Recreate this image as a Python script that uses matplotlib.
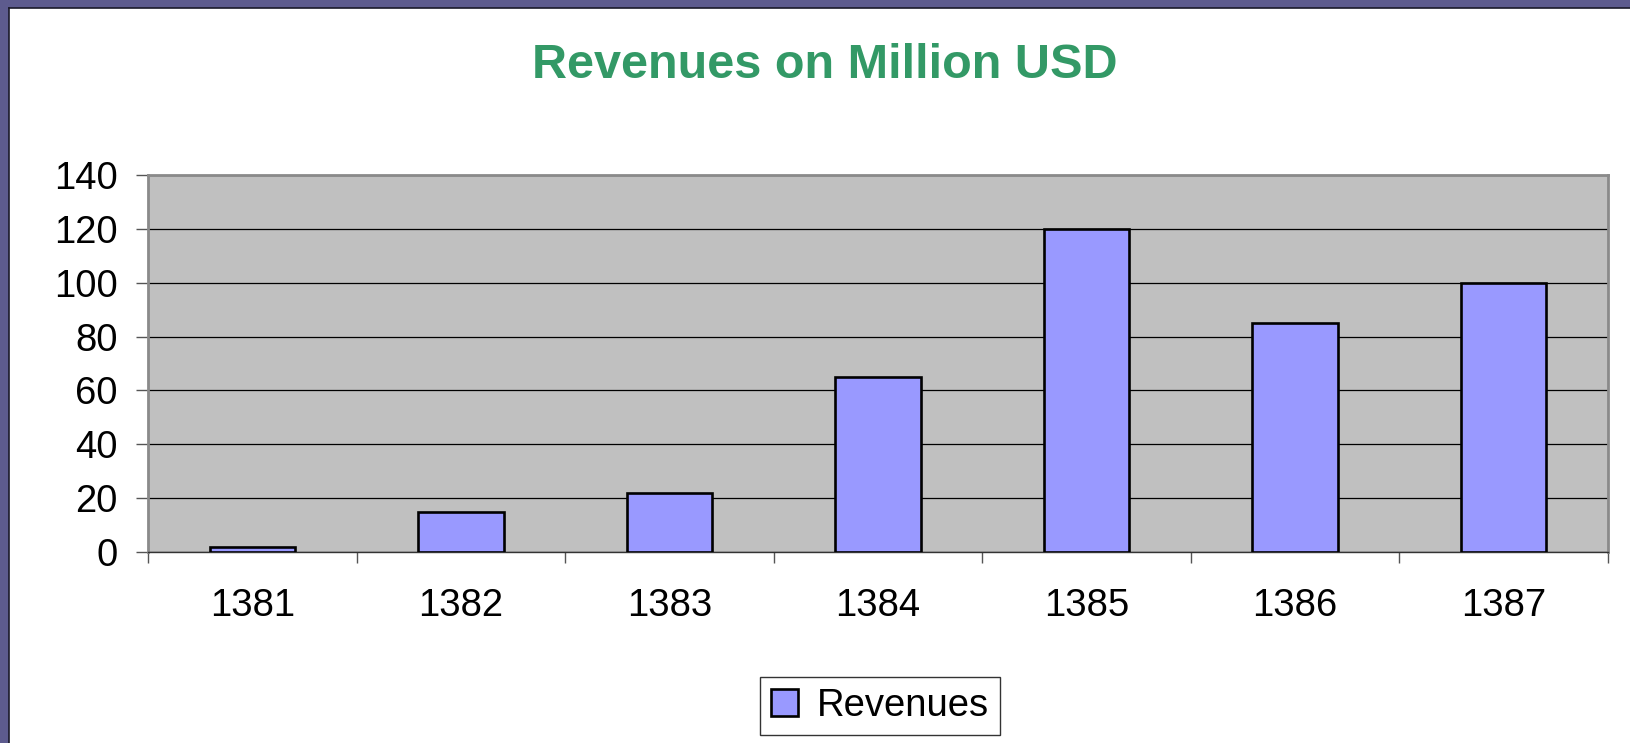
"""plot.py - revenues bar chart (Excel style)."""

import matplotlib
matplotlib.use("Agg")
from matplotlib import pyplot as plt
from matplotlib.patches import Rectangle

# Data
# ----
years = ["1381", "1382", "1383", "1384", "1385", "1386", "1387"]
revenues = [2, 15, 22, 65, 120, 85, 100]
y_ticks = [0, 20, 40, 60, 80, 100, 120, 140]

plt.rcParams["font.family"] = ["Liberation Sans", "DejaVu Sans"]

fig = plt.figure(figsize=(16.31, 7.43), dpi=100)
fig.patch.set_facecolor("white")

# purple slide frame on top and left
frame = "#5d5b8e"
fig.patches.append(Rectangle((0, 1 - 8 / 743), 1, 8 / 743, transform=fig.transFigure,
                             facecolor=frame, edgecolor="none", zorder=0))
fig.patches.append(Rectangle((0, 0), 9 / 1631, 1, transform=fig.transFigure,
                             facecolor=frame, edgecolor="none", zorder=0))
fig.add_artist(plt.Line2D([9.5 / 1631, 9.5 / 1631], [0, 1 - 8 / 743], transform=fig.transFigure,
                          color="#1a1a2a", lw=1.2))
fig.add_artist(plt.Line2D([9.5 / 1631, 1], [1 - 8 / 743, 1 - 8 / 743], transform=fig.transFigure,
                          color="#1a1a2a", lw=1.2))

ax = fig.add_axes([148 / 1631, 1 - 552 / 743, (1608 - 148) / 1631, (552 - 175) / 743])
ax.set_facecolor("#c0c0c0")

x = list(range(len(years)))
ax.bar(x, revenues, width=0.41, color="#9999ff", edgecolor="black", linewidth=1.9,
       label="Revenues", zorder=3)

ax.set_xlim(-0.5, len(years) - 0.5)
ax.set_ylim(0, 140)
ax.set_yticks(y_ticks)
ax.set_yticklabels([str(v) for v in y_ticks])
ax.yaxis.grid(True, color="black", linewidth=0.9, zorder=1)
ax.set_axisbelow(True)

# category ticks sit on the boundaries between bars
ax.set_xticks(x)
ax.set_xticklabels(years)
ax.set_xticks([i - 0.5 for i in range(len(years) + 1)], minor=True)
ax.tick_params(axis="x", which="major", length=0, pad=26, labelsize=27.5)
ax.tick_params(axis="x", which="minor", length=8, width=1, color="#555555")
ax.tick_params(axis="y", length=9, width=1, color="#555555", pad=13, labelsize=27.5)

for side in ["top", "right", "left"]:
    ax.spines[side].set_color("#8a8a8a")
    ax.spines[side].set_linewidth(2)
ax.spines["bottom"].set_color("#333333")
ax.spines["bottom"].set_linewidth(1)

fig.text(825 / 1631, 1 - 66 / 743, "Revenues on Million USD", ha="center", va="center",
         fontsize=35, fontweight="bold", color="#339966")

leg = fig.legend(loc="center", bbox_to_anchor=(880 / 1631, 1 - 706 / 743), fontsize=27.5,
                 frameon=True, fancybox=False, edgecolor="black", handlelength=0.7,
                 handleheight=0.7, handletextpad=0.5, borderpad=0.3)
leg.get_frame().set_linewidth(1)

fig.savefig("out.png", dpi=100)
